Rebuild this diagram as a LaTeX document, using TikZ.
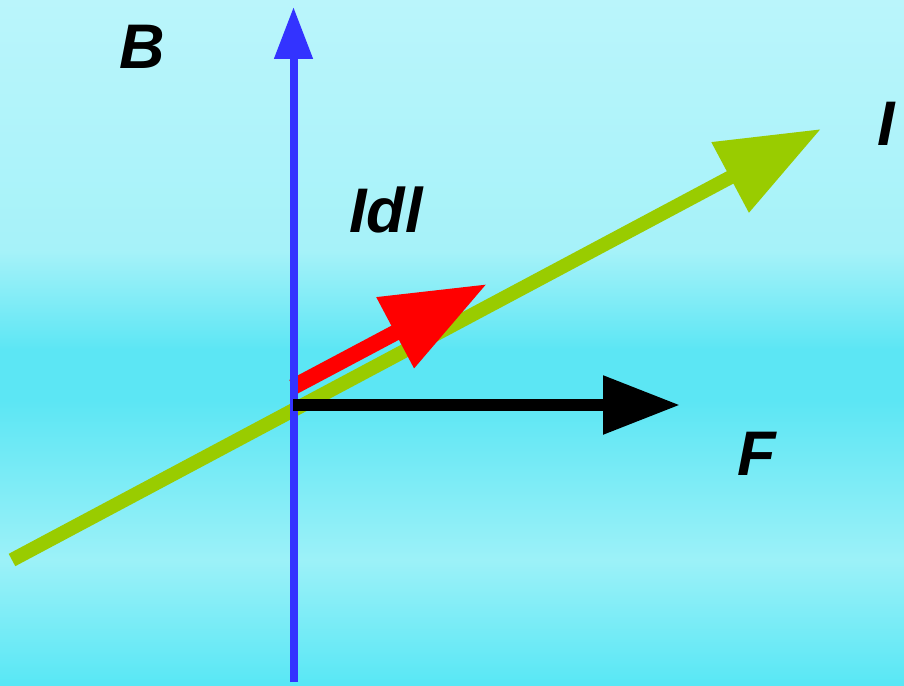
\documentclass[tikz,border=0pt]{standalone}
\usepackage{fontspec}
\setmainfont{Liberation Sans}
\usetikzlibrary{arrows.meta}
\definecolor{bgA}{HTML}{BAF5FB}
\definecolor{bgB}{HTML}{A6F2F9}
\definecolor{bgC}{HTML}{5CE6F4}
\definecolor{bgD}{HTML}{9CF1F8}
\definecolor{bgE}{HTML}{58E7F5}
\definecolor{vgreen}{HTML}{99CC00}
\definecolor{vblue}{HTML}{3333FF}
\definecolor{vred}{HTML}{FF0000}
\tikzset{
  lbl/.style={font=\fontsize{63}{70}\selectfont\bfseries\itshape, inner sep=0pt, anchor=base, text=black},
  vec/.style={line width=#1, line cap=butt},
}
\begin{document}
\begin{tikzpicture}[x=1pt,y=-1pt]
\useasboundingbox (0,0) rectangle (904,685);
% background bands
\shade[top color=bgA, bottom color=bgB] (0,0) rectangle (904,250);
\shade[top color=bgB, bottom color=bgC] (0,250) rectangle (904,350);
\fill[bgC] (0,349) rectangle (904,401);
\shade[top color=bgC, bottom color=bgD] (0,400) rectangle (904,560);
\shade[top color=bgD, bottom color=bgE] (0,560) rectangle (904,685);
% points
\coordinate (gs) at (12,560);
\coordinate (gt) at (821,129);
\coordinate (rs) at (293,387);
\coordinate (rt) at (487,284);
\coordinate (bs) at (293.5,682);
\coordinate (bt) at (293.5,7);
\coordinate (fs) at (293,405);
\coordinate (ft) at (680,405);
% current I (green)
\draw[vec=14, vgreen, -{Triangle[length=103,width=76]}] (gs) -- (gt);
% Idl (red)
\draw[vec=16, vred, -{Triangle[length=104,width=76]}] (rs) -- (rt);
% B (blue)
\draw[vec=8, vblue, -{Triangle[length=52,width=37]}] (bs) -- (bt);
% F (black)
\draw[vec=12, black, -{Triangle[length=77,width=56]}] (fs) -- (ft);
% labels
\node[lbl] (lB) at (142,69) {B};
\node[lbl] (lI) at (886,145) {I};
\node[lbl] (lIdl) at (386,232) {Idl};
\node[lbl] (lF) at (757,475) {F};
\end{tikzpicture}
\end{document}
